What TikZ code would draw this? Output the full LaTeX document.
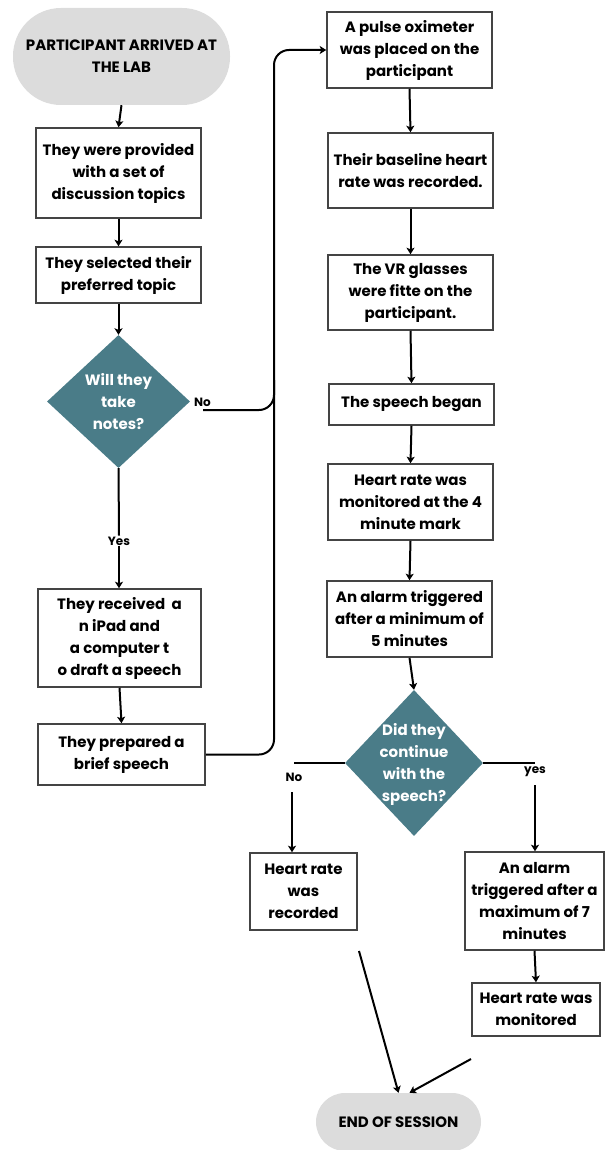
\documentclass[tikz,border=0pt]{standalone}
\usepackage{fontspec}
\setmainfont{Poppins}
\usetikzlibrary{shapes.geometric,arrows.meta}
\definecolor{decteal}{HTML}{4A7C88}
\definecolor{termgray}{HTML}{DCDCDC}
\definecolor{boxline}{HTML}{444444}
\begin{document}
\begin{tikzpicture}[x=1pt,y=-1pt,
  box/.style={draw=boxline, line width=1.5pt, fill=white, align=center, inner sep=0pt,
    font=\bfseries\fontsize{15}{22}\selectfont},
  term/.style={fill=termgray, align=center, inner sep=0pt,
    font=\bfseries\fontsize{15}{22}\selectfont},
  dec/.style={diamond, fill=decteal, inner sep=0pt},
  dectext/.style={align=center, text=white, font=\bfseries\fontsize{15}{22}\selectfont},
  lab/.style={font=\bfseries\fontsize{12}{14}\selectfont, inner sep=1pt},
  arr/.style={-{Stealth[length=6.5pt,width=8pt,inset=1.5pt]}, line width=2pt},
  ln/.style={line width=2pt}
]
\useasboundingbox (0,0) rectangle (608,1150);
% left column
\node[term, minimum width=217pt, minimum height=97pt, rounded corners=48pt] (start) at (121.5,56.5) {PARTICIPANT ARRIVED AT\\THE LAB};
\node[box, minimum width=165pt, minimum height=90pt] (b1) at (118.5,173) {They were provided\\with a set of\\discussion topics};
\node[box, minimum width=165pt, minimum height=56pt] (b2) at (118.5,275) {They selected their\\preferred topic};
\node[dec, minimum width=143pt, minimum height=133pt] (d1) at (118.5,401.5) {};
\node[dectext] (d1t) at (d1) {Will they\\take\\notes?};
\node[box, minimum width=163pt, minimum height=98pt] (b3) at (119.5,638) {They received\ \ a\\n iPad and\\a computer t\\o draft a speech};
\node[box, minimum width=167pt, minimum height=61pt] (b4) at (121.5,754.5) {They prepared a\\brief speech};
% right column
\node[box, minimum width=165pt, minimum height=76pt] (bA) at (409.5,50) {A pulse oximeter\\was placed on the\\participant};
\node[box, minimum width=165pt, minimum height=75pt] (bB) at (410.5,170.5) {Their baseline heart\\rate was recorded.};
\node[box, minimum width=165pt, minimum height=75pt] (bC) at (410.5,292.5) {The VR glasses\\were fitte on the\\participant.};
\node[box, minimum width=165pt, minimum height=41pt] (bD) at (411.5,404.5) {The speech began};
\node[box, minimum width=165pt, minimum height=76pt] (bE) at (410.5,502) {Heart rate was\\monitored at the 4\\minute mark};
\node[box, minimum width=165pt, minimum height=76pt] (bF) at (409.5,619) {An alarm triggered\\after a minimum of\\5 minutes};
\node[dec, minimum width=138pt, minimum height=146pt] (d2) at (414,763) {};
\node[dectext] (d2t) at (414,764) {Did they\\continue\\with the\\speech?};
\node[box, minimum width=107pt, minimum height=77pt] (bG) at (303.5,891.5) {Heart rate\\was\\recorded};
\node[box, minimum width=139pt, minimum height=98pt] (bH) at (534.5,901) {An alarm\\triggered after a\\maximum of 7\\minutes};
\node[box, minimum width=128pt, minimum height=53pt] (bI) at (536,1009.5) {Heart rate was\\monitored};
\node[term, minimum width=165pt, minimum height=58pt, rounded corners=29pt] (endT) at (398.5,1122) {END OF SESSION};
% labels
\node[lab] (no1) at (202.5,402) {No};
\node[lab] (yes1) at (119,541) {Yes};
\node[lab] (no2) at (294,777) {No};
\node[lab] (yes2) at (535,772) {yes};
% coordinates
\coordinate (c1) at (203,410);
\coordinate (vx) at (274,0);
\coordinate (vtop) at (274,380);
\coordinate (c2) at (294,763);
\coordinate (c3) at (292,792);
\coordinate (c4) at (535,763);
\coordinate (c5) at (535,785);
\coordinate (g0) at (359,951);
\coordinate (i0) at (471,1059);
% connectors left
\draw[arr] (start.south) -- (b1.north);
\draw[arr] (b1.south) -- (b2.north);
\draw[arr] (b2.south) -- (d1.north);
\draw[ln] (d1.south) -- (yes1.north);
\draw[arr] (yes1.south) -- (b3.north -| yes1.south);
\draw[arr] (b3.south) -- (b4.north);
\draw[arr, rounded corners=15pt] (c1) -- (c1 -| vx) -- (vx |- bA.west) -- (bA.west);
\draw[ln, rounded corners=15pt] (b4.east) -- (b4.east -| vx) -- (vtop);
% connectors right
\draw[arr] (bA.south) -- (bB.north);
\draw[arr] (bB.south) -- (bC.north);
\draw[arr] (bC.south) -- (bD.north);
\draw[arr] (bD.south) -- (bE.north);
\draw[arr] (bE.south) -- (bF.north);
\draw[arr] (bF.south) -- (d2.north);
\draw[ln] (d2.west) -- (c2);
\draw[arr] (c3) -- (c3 |- bG.north);
\draw[ln] (d2.east) -- (c4);
\draw[arr] (c5) -- (c5 |- bH.north);
\draw[arr] (bH.south) -- (bI.north);
\draw[arr] (g0) -- (endT.north);
\draw[arr] (i0) -- ([xshift=11pt]endT.north);
\end{tikzpicture}
\end{document}
